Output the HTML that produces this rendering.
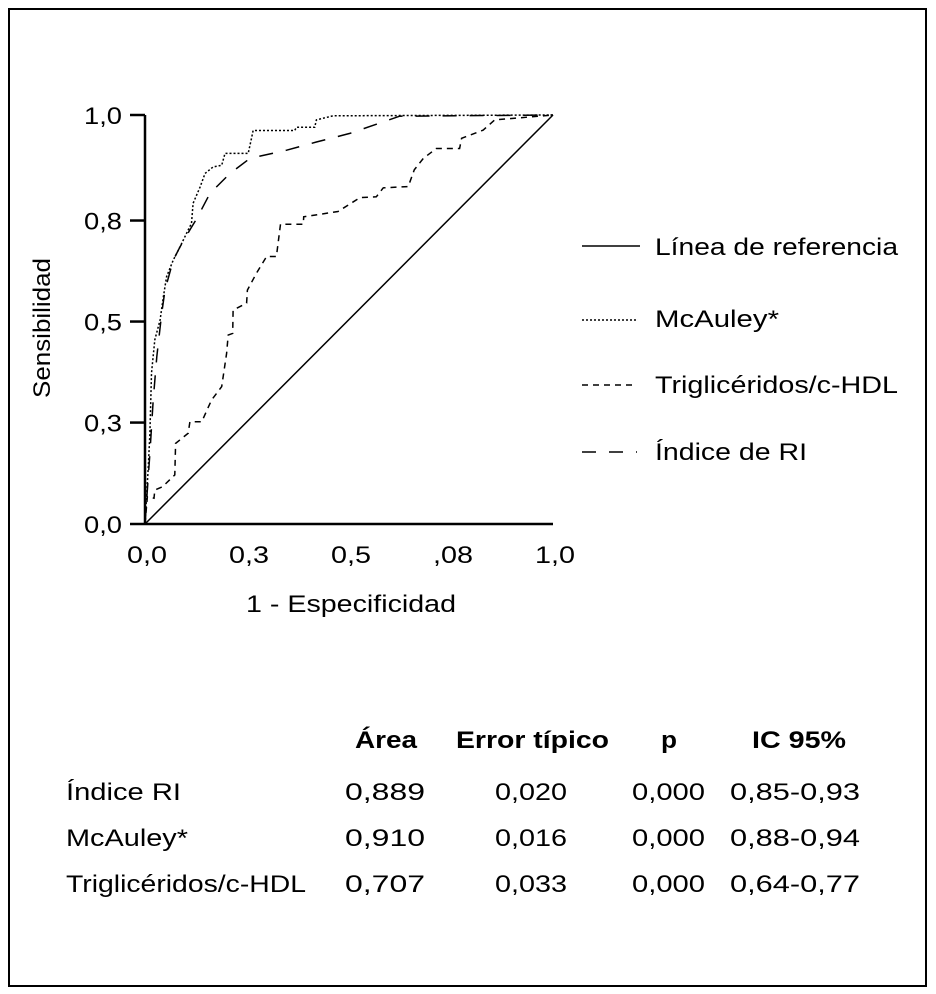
<!DOCTYPE html>
<html><head><meta charset="utf-8"><style>
html,body{margin:0;padding:0;background:#fff;}
svg{display:block;font-family:"Liberation Sans",Arial,sans-serif;}
</style></head><body>
<svg id="chart" width="936" height="994" viewBox="0 0 936 994">
<rect x="9" y="9" width="917" height="977" fill="none" stroke="#000" stroke-width="2"/>
<g id="plot"></g>
<g font-size="24">
 <g><line x1="582" y1="246" x2="640" y2="246" stroke="#000" stroke-width="1.5"/><text x="655" y="255" textLength="243" lengthAdjust="spacingAndGlyphs">Línea de referencia</text></g>
 <g><line x1="582" y1="320" x2="637" y2="320" stroke="#000" stroke-width="1.5" stroke-dasharray="2,2"/><text x="655" y="327" textLength="124" lengthAdjust="spacingAndGlyphs">McAuley*</text></g>
 <g><line x1="582" y1="385" x2="637" y2="385" stroke="#000" stroke-width="1.5" stroke-dasharray="6,5"/><text x="655" y="393" textLength="243" lengthAdjust="spacingAndGlyphs">Triglicéridos/c-HDL</text></g>
 <g><line x1="582" y1="452" x2="637" y2="452" stroke="#000" stroke-width="1.5" stroke-dasharray="14,13"/><text x="655" y="460" textLength="152" lengthAdjust="spacingAndGlyphs">Índice de RI</text></g>
</g>
<g font-size="24">
 <g font-weight="bold">
  <text x="355" y="748" textLength="62" lengthAdjust="spacingAndGlyphs">Área</text>
  <text x="456" y="748" textLength="153" lengthAdjust="spacingAndGlyphs">Error típico</text>
  <text x="661" y="748" textLength="16" lengthAdjust="spacingAndGlyphs">p</text>
  <text x="752" y="748" textLength="94" lengthAdjust="spacingAndGlyphs">IC 95%</text>
 </g>
 <g>
  <text x="66" y="800" textLength="115" lengthAdjust="spacingAndGlyphs">Índice RI</text>
  <text x="345" y="800" textLength="80" lengthAdjust="spacingAndGlyphs">0,889</text>
  <text x="495" y="800" textLength="72" lengthAdjust="spacingAndGlyphs">0,020</text>
  <text x="632" y="800" textLength="73" lengthAdjust="spacingAndGlyphs">0,000</text>
  <text x="730" y="800" textLength="130" lengthAdjust="spacingAndGlyphs">0,85-0,93</text>
 </g>
 <g>
  <text x="66" y="846" textLength="122" lengthAdjust="spacingAndGlyphs">McAuley*</text>
  <text x="345" y="846" textLength="80" lengthAdjust="spacingAndGlyphs">0,910</text>
  <text x="495" y="846" textLength="72" lengthAdjust="spacingAndGlyphs">0,016</text>
  <text x="632" y="846" textLength="73" lengthAdjust="spacingAndGlyphs">0,000</text>
  <text x="730" y="846" textLength="130" lengthAdjust="spacingAndGlyphs">0,88-0,94</text>
 </g>
 <g>
  <text x="66" y="892" textLength="240" lengthAdjust="spacingAndGlyphs">Triglicéridos/c-HDL</text>
  <text x="345" y="892" textLength="80" lengthAdjust="spacingAndGlyphs">0,707</text>
  <text x="495" y="892" textLength="72" lengthAdjust="spacingAndGlyphs">0,033</text>
  <text x="632" y="892" textLength="73" lengthAdjust="spacingAndGlyphs">0,000</text>
  <text x="730" y="892" textLength="130" lengthAdjust="spacingAndGlyphs">0,64-0,77</text>
 </g>
</g>
</svg>
<script>
const xTickLabels=["0,0","0,3","0,5",",08","1,0"];
const xTickValues=[0,0.25,0.5,0.75,1];
const yTickLabels=["0,0","0,3","0,5","0,8","1,0"];
const yTickValues=[0,0.248,0.495,0.742,1];
const trigX=[0,0.006,0.022,0.024,0.043,0.073,0.075,0.106,0.110,0.139,0.163,0.188,0.200,0.204,0.215,0.216,0.249,0.251,0.273,0.298,0.322,0.332,0.388,0.389,0.473,0.527,0.567,0.584,0.645,0.660,0.682,0.714,0.771,0.776,0.829,0.857,1];
const trigY=[0,0.067,0.063,0.083,0.091,0.120,0.197,0.222,0.250,0.250,0.303,0.336,0.417,0.462,0.466,0.523,0.540,0.572,0.613,0.654,0.654,0.733,0.733,0.751,0.764,0.798,0.800,0.822,0.825,0.866,0.894,0.918,0.918,0.943,0.963,0.988,1];
const mcX=[0,0.008,0.012,0.016,0.024,0.037,0.045,0.053,0.069,0.086,0.102,0.114,0.118,0.135,0.147,0.167,0.188,0.196,0.253,0.261,0.265,0.367,0.371,0.416,0.420,0.461,1];
const mcY=[0,0.140,0.222,0.369,0.450,0.499,0.556,0.605,0.645,0.678,0.711,0.735,0.784,0.824,0.857,0.873,0.877,0.906,0.906,0.943,0.962,0.962,0.970,0.970,0.988,0.998,1];
const riX=[0,0.012,0.020,0.029,0.041,0.049,0.069,0.086,0.110,0.127,0.159,0.208,0.257,0.347,0.420,0.502,0.624,1];
const riY=[0,0.173,0.303,0.409,0.515,0.572,0.645,0.678,0.719,0.747,0.808,0.857,0.894,0.914,0.934,0.955,0.997,1];
const refX=[0,1];
const refY=[0,1];

const NS="http://www.w3.org/2000/svg";
const X0=145,X1=553,Y0=524,Y1=115;
function sx(v){return X0+v*(X1-X0);}
function sy(v){return Y0-v*(Y0-Y1);}
const plot=document.getElementById('plot');
function mk(tag,attrs,parent){const e=document.createElementNS(NS,tag);for(const k in attrs)e.setAttribute(k,attrs[k]);(parent||plot).appendChild(e);return e;}

function series(xs,ys,dash,name){
  const d=xs.map((x,i)=>(i?'L':'M')+sx(x).toFixed(1)+','+sy(ys[i]).toFixed(1)).join(' ');
  const p=mk('path',{d:d,fill:'none',stroke:'#000','stroke-width':'1.5'});
  if(dash)p.setAttribute('stroke-dasharray',dash);
  
  
}
series(refX,refY,null,'reference-line');
series(trigX,trigY,'6,5','trig-hdl-curve');
series(mcX,mcY,'2,2','mcauley-curve');
series(riX,riY,'14,13','ri-index-curve');

const ya=mk('line',{x1:X0,y1:Y1,x2:X0,y2:Y0,stroke:'#000','stroke-width':'2.5'});


const xa=mk('line',{x1:X0,y1:Y0,x2:X1,y2:Y0,stroke:'#000','stroke-width':'2.5'});



yTickValues.forEach((v,i)=>{
  const t=mk('line',{x1:X0-15,y1:sy(v),x2:X0,y2:sy(v),stroke:'#000','stroke-width':'2.5'});
  
  
  const l=mk('text',{x:X0-23,y:sy(v)+9,'text-anchor':'end','font-size':'24',textLength:'38',lengthAdjust:'spacingAndGlyphs'});
  l.textContent=yTickLabels[i];
  
  
});
xTickValues.forEach((v,i)=>{
  const l=mk('text',{x:sx(v)+2,y:563,'text-anchor':'middle','font-size':'24',textLength:'40',lengthAdjust:'spacingAndGlyphs'});
  l.textContent=xTickLabels[i];
  
  
});
const xt=mk('text',{x:246,y:612,'font-size':'24',textLength:'210',lengthAdjust:'spacingAndGlyphs'});
xt.textContent='1 - Especificidad';


const yt=mk('text',{x:0,y:0,'font-size':'24','text-anchor':'middle',transform:'translate(50,328) rotate(-90)',textLength:'140',lengthAdjust:'spacingAndGlyphs'});
yt.textContent='Sensibilidad';


</script>
</body></html>
